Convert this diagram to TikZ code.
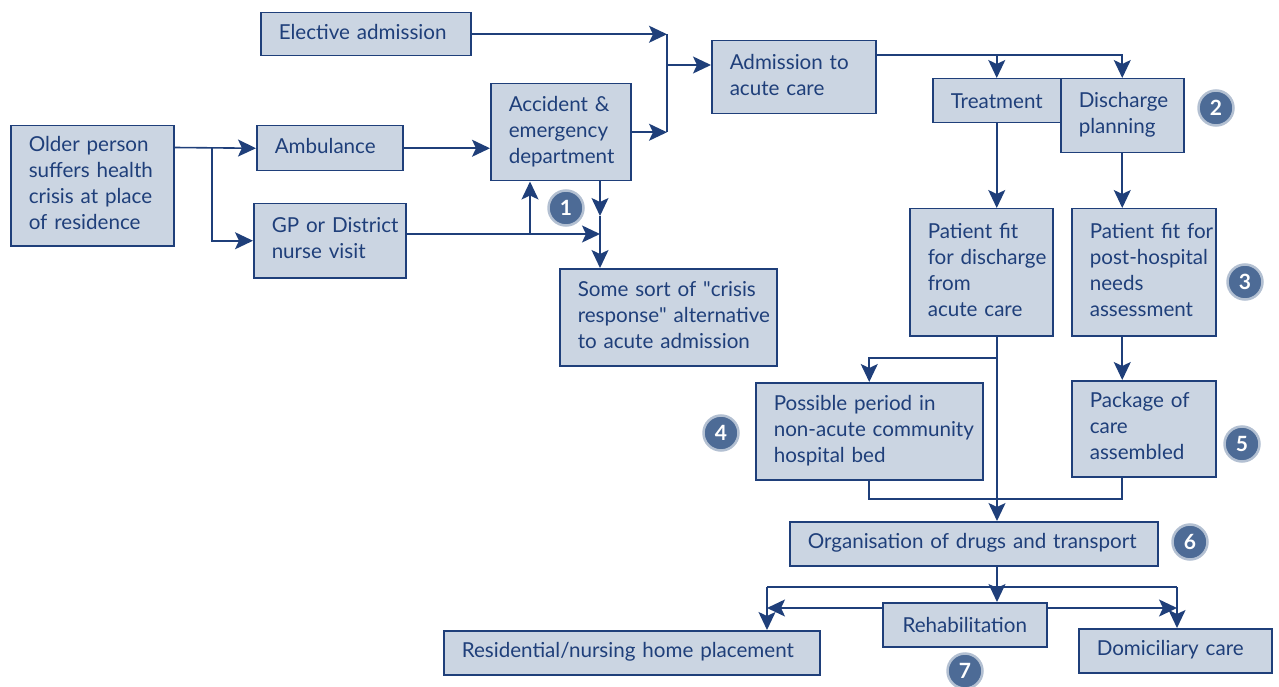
\documentclass[tikz,border=0pt]{standalone}
\usepackage{fontspec}
\setmainfont{Lato}
\usetikzlibrary{arrows.meta}
\definecolor{boxfill}{HTML}{CBD5E2}
\definecolor{navy}{HTML}{1F3F7A}
\definecolor{circfill}{HTML}{4D6B96}
\definecolor{circring}{HTML}{B3C0D2}
\newcommand{\tb}[1]{\begin{tabular}{@{\hspace{18pt}}l@{}}#1\end{tabular}}
\begin{document}
\begin{tikzpicture}[x=1pt,y=-1pt,
 box/.style={draw=navy, fill=boxfill, line width=1.5pt, text=navy, anchor=north west, inner xsep=0pt, inner ysep=0pt, align=left, font=\fontsize{20.6}{26}\selectfont},
 cbox/.style={box, align=center},
 arr/.style={draw=navy, line width=1.6pt, -{Stealth[length=18pt,width=17pt,inset=4pt]}},
 ln/.style={draw=navy, line width=1.6pt},
 num/.style={circle, fill=circfill, draw=circring, line width=2.5pt, minimum size=35pt, inner sep=0pt, text=white, font=\fontsize{21}{21}\selectfont\bfseries}]
\useasboundingbox (0,0) rectangle (1279,687);

\node[box, minimum width=210pt, minimum height=43pt, text width=210pt] (elective) at (260,12) {\tb{Elective admission}};
\node[box, minimum width=164pt, minimum height=73pt, text width=164pt] (admission) at (711,40) {\tb{Admission to\\acute care}};
\node[box, minimum width=140pt, minimum height=97pt, text width=140pt] (ae) at (490,83) {\tb{Accident \&\\emergency\\department}};
\node[box, minimum width=163pt, minimum height=120pt, text width=163pt] (older) at (10,125) {\tb{Older person\\suffers health\\crisis at place\\of residence}};
\node[box, minimum width=146pt, minimum height=45pt, text width=146pt] (amb) at (256,125) {\tb{Ambulance}};
\node[box, minimum width=152pt, minimum height=74pt, text width=152pt] (gp) at (253,203) {\tb{GP or District\\nurse visit}};
\node[box, minimum width=217pt, minimum height=97pt, text width=217pt] (crisis) at (559,268) {\tb{Some sort of \textquotedbl crisis\\response\textquotedbl{} alternative\\to acute admission}};
\node[cbox, minimum width=128pt, minimum height=44pt, text width=128pt] (treat) at (932,78) {Treatment};
\node[box, minimum width=123pt, minimum height=74pt, text width=123pt] (disch) at (1060,78) {\tb{Discharge\\planning}};
\node[box, minimum width=143pt, minimum height=127pt, text width=143pt] (fit) at (909,208) {\tb{Patient fit\\for discharge\\from\\acute care}};
\node[box, minimum width=144pt, minimum height=127pt, text width=144pt] (post) at (1071,208) {\tb{Patient fit for\\post-hospital\\needs\\assessment}};
\node[box, minimum width=227pt, minimum height=97pt, text width=227pt] (period) at (755,382) {\tb{Possible period in\\non-acute community\\hospital bed}};
\node[box, minimum width=144pt, minimum height=96pt, text width=144pt] (package) at (1071,380) {\tb{Package of\\care\\assembled}};
\node[box, minimum width=368pt, minimum height=44pt, text width=368pt] (org) at (789,521) {\tb{Organisation of drugs and transport}};
\node[cbox, minimum width=164pt, minimum height=44pt, text width=164pt] (rehab) at (882,602) {Rehabilitation};
\node[box, minimum width=376pt, minimum height=44pt, text width=376pt] (resid) at (443,630) {\tb{Residential/nursing home placement}};
\node[box, minimum width=193pt, minimum height=44pt, text width=193pt] (domic) at (1078,628) {\tb{Domiciliary care}};

% top-left connectors
\coordinate (j1) at (667,65);
\draw[ln] (elective.east -| j1) -- (ae.east -| j1);
\draw[arr] (elective.east) -- (elective.east -| j1);
\draw[arr] (ae.east) -- (ae.east -| j1);
\draw[arr] (j1) -- (admission.west |- j1);

\coordinate (s1) at (212,147.5);
\draw[arr] (older.east |- s1) -- (amb.west);
\draw[arr] (s1) |- (gp.west);
\draw[arr] (amb.east) -- (amb.east -| ae.west);

\coordinate (s2) at (600,234);
\coordinate (s3) at (530,234);
\coordinate (s4) at (600,216);
\draw[arr] (gp.east |- s2) -- (s2);
\draw[arr] (s3) -- (s3 |- ae.south);
\draw[arr] (s4 |- ae.south) -- (s4);
\draw[arr] (s4) -- (s4 |- crisis.north);

% right side
\coordinate (t0) at (875,55);
\draw[arr] (admission.east |- t0) -| (treat.north);
\draw[arr] (admission.east |- t0) -| (disch.north);
\draw[arr] (treat.south) -- (treat.south |- fit.north);
\draw[arr] (disch.south) -- (disch.south |- post.north);
\draw[arr] (disch.south |- post.south) -- (disch.south |- package.north);

\coordinate (f1) at (997,358);
\draw[arr] (f1 |- fit.south) -- (f1 |- org.north);
\draw[arr] (f1) -| (period.north);
\coordinate (b1) at (1122,499);
\draw[ln] (period.south) |- (b1) -- (b1 |- package.south);

% bottom
\draw[arr] (f1 |- org.south) -- (f1 |- rehab.north);
\coordinate (r1) at (767,587);
\coordinate (r2) at (1177,587);
\coordinate (r4) at (767,608);
\coordinate (r5) at (1177,608);
\draw[ln] (r1) -- (r2);
\draw[arr] (r1) -- (r1 |- resid.north);
\draw[arr] (r2) -- (r2 |- domic.north);
\draw[arr] (rehab.west |- r4) -- (r4);
\draw[arr] (rehab.east |- r5) -- (r5);

% numbered markers
\node[num] (n1) at (566,208) {1};
\node[num] (n2) at (1216,108) {2};
\node[num] (n3) at (1245,282) {3};
\node[num] (n4) at (721,433) {4};
\node[num] (n5) at (1242,444) {5};
\node[num] (n6) at (1190,542) {6};
\node[num] (n7) at (965,671) {7};
\end{tikzpicture}
\end{document}
